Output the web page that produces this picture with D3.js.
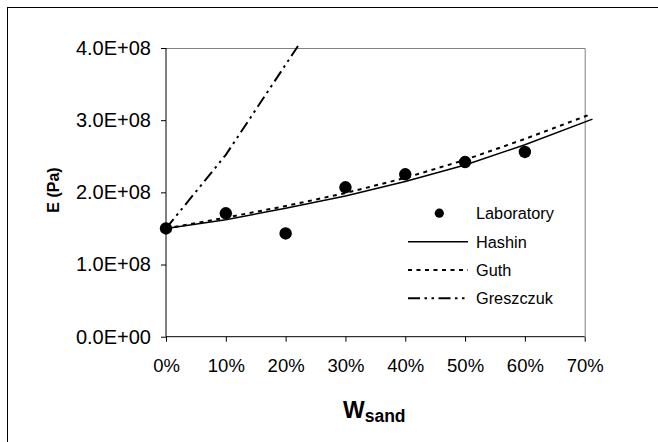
<!DOCTYPE html>
<html>
<head>
<meta charset="utf-8">
<script src="https://cdn.jsdelivr.net/npm/d3@7"></script>
<style>
  html, body { margin: 0; padding: 0; background: #fff; }
  svg { display: block; font-family: Arial, "Liberation Sans", sans-serif; }
</style>
</head>
<body>
<svg id="chart" width="658" height="442"></svg>
<script>
// Sand weight fraction vs. elastic modulus
const labX = [0, 0.1, 0.2, 0.3, 0.4, 0.5, 0.6];
const labE = [1.50e8, 1.71e8, 1.43e8, 2.07e8, 2.25e8, 2.42e8, 2.56e8];

const hashinX = [0, 0.1, 0.2, 0.3, 0.4, 0.5, 0.6, 0.713];
const hashinE = [1.50e8, 1.62e8, 1.78e8, 1.95e8, 2.15e8, 2.38e8, 2.66e8, 3.015e8];

const guthX = [0, 0.1, 0.2, 0.3, 0.4, 0.5, 0.6, 0.706];
const guthE = [1.50e8, 1.65e8, 1.81e8, 1.99e8, 2.20e8, 2.45e8, 2.74e8, 3.07e8];

const greszX = [0, 0.1, 0.2, 0.224];
const greszE = [1.50e8, 2.52e8, 3.77e8, 4.07e8];

const xTicks = [0, 0.1, 0.2, 0.3, 0.4, 0.5, 0.6, 0.7];
const yTicks = [0, 1e8, 2e8, 3e8, 4e8];

const legendNames = ["Laboratory", "Hashin", "Guth", "Greszczuk"];

const svg = d3.select("#chart");
const W = 658, H = 442;
const plot = { left: 166, right: 584.7, top: 48, bottom: 336.7 };

const x = d3.scaleLinear().domain([0, 0.7]).range([plot.left, plot.right]);
const y = d3.scaleLinear().domain([0, 4e8]).range([plot.bottom, plot.top]);

// chart frame
svg.append("rect")
  .attr("x", 7.5).attr("y", 7.5)
  .attr("width", W + 10).attr("height", H + 10)
  .attr("fill", "none").attr("stroke", "#000").attr("stroke-width", 1);

// plot area border (top/right in grey)
svg.append("path")
  .attr("d", `M${plot.left},${plot.top + 0.5}H${plot.right + 0.5}V${plot.bottom}`)
  .attr("fill", "none").attr("stroke", "#808080").attr("stroke-width", 1);

// y axis
const yAxis = d3.axisLeft(y).tickValues(yTicks).tickSize(5).tickPadding(10)
  .tickFormat(d => d === 0 ? "0.0E+00" : (d / 1e8).toFixed(1) + "E+08");
const gy = svg.append("g").attr("transform", `translate(${plot.left},0)`).call(yAxis);
gy.select(".domain").attr("d", `M-0,${plot.top}V${plot.bottom}`).attr("stroke", "#000");
gy.selectAll("text").attr("font-size", 20).attr("fill", "#000")
  .attr("font-family", 'Arial, "Liberation Sans", sans-serif');

// x axis
const xAxis = d3.axisBottom(x).tickValues(xTicks).tickSize(5).tickPadding(17)
  .tickFormat(d => Math.round(d * 100) + "%");
const gx = svg.append("g").attr("transform", `translate(0,${plot.bottom})`).call(xAxis);
gx.select(".domain").attr("d", `M${plot.left},0H${plot.right}`).attr("stroke", "#000");
gx.selectAll("text").attr("font-size", 18.5).attr("fill", "#000")
  .attr("font-family", 'Arial, "Liberation Sans", sans-serif');

// model curves
const line = d3.line().x(d => x(d[0])).y(d => y(d[1]));
const series = [
  { xs: hashinX, es: hashinE, dash: null, w: 1.5 },
  { xs: guthX, es: guthE, dash: "4,4.5", w: 2 },
  { xs: greszX, es: greszE, dash: "12,4.5,2.5,4.5,2.5,4.5", w: 2 }
];
series.forEach(s => {
  svg.append("path")
    .datum(d3.zip(s.xs, s.es))
    .attr("d", line)
    .attr("fill", "none").attr("stroke", "#000")
    .attr("stroke-width", s.w)
    .attr("stroke-dasharray", s.dash);
});

// laboratory points
svg.append("g").selectAll("circle")
  .data(d3.zip(labX, labE))
  .join("circle")
  .attr("cx", d => x(d[0])).attr("cy", d => y(d[1]))
  .attr("r", 6.2).attr("fill", "#000");

// legend
const lg = svg.append("g");
const lgY = [213.2, 241.7, 270, 298.3];
lg.append("circle").attr("cx", 439.3).attr("cy", lgY[0]).attr("r", 4.6).attr("fill", "#000");
series.forEach((s, i) => {
  lg.append("line")
    .attr("x1", 408).attr("x2", 468)
    .attr("y1", lgY[i + 1]).attr("y2", lgY[i + 1])
    .attr("stroke", "#000").attr("stroke-width", s.w)
    .attr("stroke-dasharray", s.dash);
});
legendNames.forEach((n, i) => {
  lg.append("text")
    .attr("x", 476).attr("y", lgY[i] + 6)
    .attr("font-size", 16.3).text(n);
});

// axis titles
svg.append("text")
  .attr("transform", "translate(58.5,190) rotate(-90)")
  .attr("text-anchor", "middle")
  .attr("font-size", 16).attr("font-weight", "bold")
  .text("E (Pa)");

const xt = svg.append("text").attr("x", 343).attr("y", 417.7)
  .attr("font-weight", "bold");
xt.append("tspan").attr("font-size", 23).text("W");
xt.append("tspan").attr("font-size", 17.5).attr("dy", 4.3).text("sand");
</script>
</body>
</html>
